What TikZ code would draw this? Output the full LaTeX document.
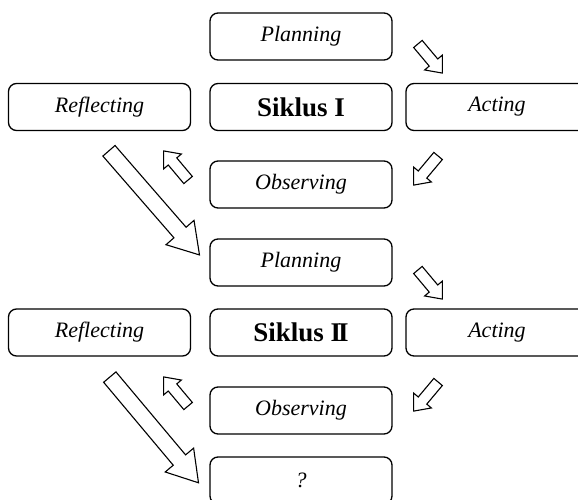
\documentclass[tikz,border=0pt]{standalone}
\usepackage{fontspec}
\setmainfont{Liberation Serif}
\usetikzlibrary{shapes.arrows}

\begin{document}
\begin{tikzpicture}[x=1pt, y=-1pt,
    box/.style={draw, line width=1.3pt, rounded corners=8pt, minimum width=182pt,
      minimum height=47pt, inner sep=0pt, font=\fontsize{22}{26}\selectfont\itshape},
    title/.style={font=\fontsize{27}{32}\selectfont\bfseries},
    smallarrow/.style={single arrow, draw, line width=1.1pt, inner sep=5pt,
      minimum height=38pt, single arrow head extend=6pt, single arrow tip angle=80},
    bigarrow/.style={single arrow, draw, line width=1.1pt, inner sep=7.5pt,
      minimum height=138pt, single arrow head extend=10.5pt, single arrow tip angle=64}]
  \path[use as bounding box] (0,0) rectangle (578,500);
  \clip (0,0) rectangle (578,500);
  \node[box] (plan1) at (301,36.5) {Planning};
  \node[box] (refl1) at (99.5,107) {Reflecting};
  \node[box, title] (sik1) at (301,107) {Siklus I};
  \node[box] (act1) at (497,107) {Acting};
  \node[box] (obs1) at (301,184.5) {Observing};
  \node[smallarrow, rotate=-50] (pa1) at (428,56) {};
  \node[smallarrow, rotate=-130] (ao1) at (428,168) {};
  \node[smallarrow, rotate=130] (or1) at (178,168) {};
  \node[bigarrow, rotate=-49] (rp1) at (150,198) {};
  \node[box] (plan2) at (301,262.5) {Planning};
  \node[box] (refl2) at (99.5,332.5) {Reflecting};
  \node[box, title] (sik2) at (301,332.5) {Siklus I\kern-3pt I};
  \node[box] (act2) at (497,332.5) {Acting};
  \node[box] (obs2) at (301,410.5) {\raisebox{-4pt}{Observing}};
  \node[box] (next) at (301,480.5) {?};
  \node[smallarrow, rotate=-50] (pa2) at (428,282) {};
  \node[smallarrow, rotate=-130] (ao2) at (428,394) {};
  \node[smallarrow, rotate=130] (or2) at (178,394) {};
  \node[bigarrow, rotate=-50] (rp2) at (150,425) {};
\end{tikzpicture}
\end{document}
